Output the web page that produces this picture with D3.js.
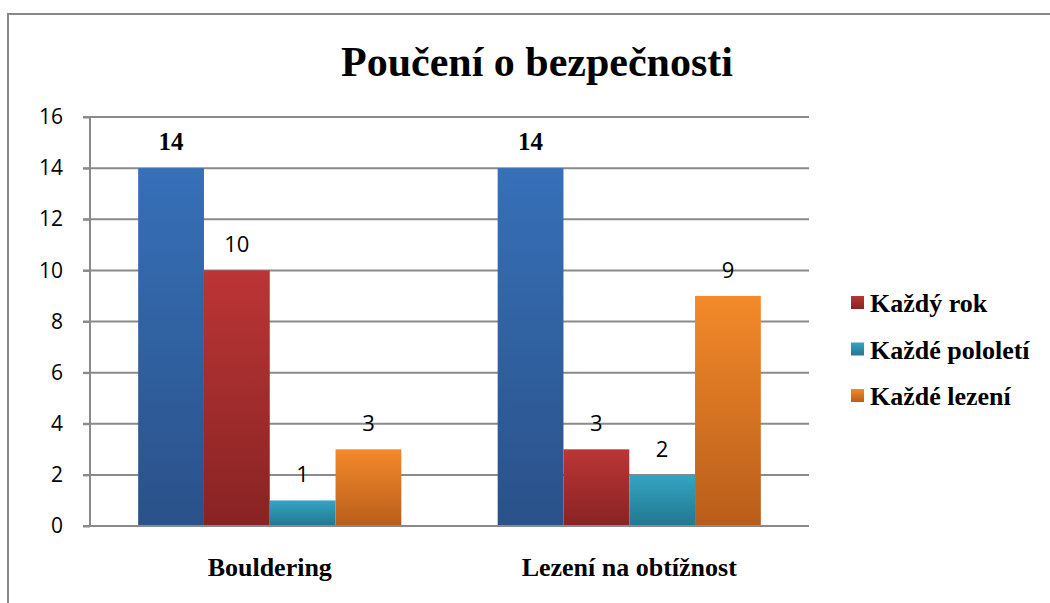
<!DOCTYPE html>
<html>
<head>
<meta charset="utf-8">
<script src="https://cdn.jsdelivr.net/npm/d3@7"></script>
<style>
  body { margin: 0; background: #fff; }
  .tick text { font-family: "Open Sans", "Liberation Sans", sans-serif; font-size: 21px; fill: #000; }
</style>
</head>
<body>
<div id="chart"></div>
<script>
// Chart data
var categories = ["Bouldering", "Lezení na obtížnost"];
var seriesNames = ["", "Každý rok", "Každé pololetí", "Každé lezení"];
var seriesValues = [
  [14, 14],
  [10, 3],
  [1, 2],
  [3, 9]
];
var yTicks = [0, 2, 4, 6, 8, 10, 12, 14, 16];

var svgWidth = 1050;
var svgHeight = 603;

var margin = { top: 117, right: 241, bottom: 77, left: 90 };
var chartWidth = svgWidth - margin.left - margin.right;
var chartHeight = svgHeight - margin.top - margin.bottom;

var colors = [
  ["#3670b8", "#2a5188"],
  ["#bb3535", "#882323"],
  ["#33a5c4", "#22778f"],
  ["#f38a2a", "#b85d1a"]
];

var svg = d3.select("#chart")
  .append("svg")
  .attr("width", svgWidth)
  .attr("height", svgHeight);

// gradients for bars
var defs = svg.append("defs");
colors.forEach(function(c, i) {
  var g = defs.append("linearGradient")
    .attr("id", "grad" + i)
    .attr("x1", 0).attr("y1", 0).attr("x2", 0).attr("y2", 1);
  g.append("stop").attr("offset", "0%").attr("stop-color", c[0]);
  g.append("stop").attr("offset", "100%").attr("stop-color", c[1]);
});

// outer frame
svg.append("rect")
  .attr("x", 8)
  .attr("y", 14)
  .attr("width", 1100)
  .attr("height", 700)
  .attr("fill", "none")
  .attr("stroke", "#888")
  .attr("stroke-width", 2);

// title
svg.append("text")
  .attr("x", 537)
  .attr("y", 76)
  .attr("text-anchor", "middle")
  .style("font-family", "'Liberation Serif', 'DejaVu Serif', serif")
  .style("font-weight", "bold")
  .style("font-size", "42px")
  .text("Poučení o bezpečnosti");

var chartGroup = svg.append("g")
  .attr("transform", `translate(${margin.left}, ${margin.top})`);

var x0 = d3.scaleBand()
  .domain(categories)
  .range([0, chartWidth])
  .paddingInner(0.268)
  .paddingOuter(0.134);

var x1 = d3.scaleBand()
  .domain(d3.range(seriesNames.length))
  .range([0, x0.bandwidth()]);

var yScale = d3.scaleLinear()
  .domain([0, 16])
  .range([chartHeight, 0]);

// gridlines
chartGroup.append("g")
  .selectAll("line")
  .data(yTicks.slice(1))
  .enter()
  .append("line")
  .attr("x1", -7)
  .attr("x2", chartWidth)
  .attr("y1", d => yScale(d))
  .attr("y2", d => yScale(d))
  .attr("stroke", "#8a8a8a")
  .attr("stroke-width", 2);

// y axis
var leftAxis = d3.axisLeft(yScale).tickValues(yTicks).tickSize(7).tickPadding(20);
var yAxis = chartGroup.append("g").call(leftAxis);
yAxis.select(".domain").remove();
yAxis.selectAll(".tick line").attr("stroke", "#8a8a8a").attr("stroke-width", 2);

// bars
var groups = chartGroup.selectAll(".cat")
  .data(categories)
  .enter()
  .append("g")
  .attr("transform", d => `translate(${x0(d)}, 0)`);

groups.selectAll("rect")
  .data((d, ci) => seriesValues.map((vals, si) => ({ si: si, v: vals[ci] })))
  .enter()
  .append("rect")
  .attr("x", d => x1(d.si))
  .attr("y", d => yScale(d.v))
  .attr("width", x1.bandwidth())
  .attr("height", d => chartHeight - yScale(d.v))
  .attr("fill", d => `url(#grad${d.si})`);

// value labels
groups.selectAll("text")
  .data((d, ci) => seriesValues.map((vals, si) => ({ si: si, v: vals[ci] })))
  .enter()
  .append("text")
  .attr("x", d => x1(d.si) + x1.bandwidth() / 2)
  .attr("y", d => yScale(d.v) - 18)
  .attr("text-anchor", "middle")
  .style("font-family", d => d.si === 0 ? "'Liberation Serif', serif" : "'Open Sans', 'Liberation Sans', sans-serif")
  .style("font-weight", d => d.si === 0 ? "bold" : "normal")
  .style("font-size", d => d.si === 0 ? "25px" : "22px")
  .text(d => d.v);

// axis lines
chartGroup.append("line")
  .attr("x1", 0).attr("x2", 0)
  .attr("y1", 0).attr("y2", chartHeight)
  .attr("stroke", "#8a8a8a").attr("stroke-width", 2);
chartGroup.append("line")
  .attr("x1", -7).attr("x2", chartWidth)
  .attr("y1", chartHeight).attr("y2", chartHeight)
  .attr("stroke", "#8a8a8a").attr("stroke-width", 2);

// category labels
chartGroup.selectAll(".catLabel")
  .data(categories)
  .enter()
  .append("text")
  .attr("x", d => x0(d) + x0.bandwidth() / 2)
  .attr("y", chartHeight + 50)
  .attr("text-anchor", "middle")
  .style("font-family", "'Liberation Serif', serif")
  .style("font-weight", "bold")
  .style("font-size", "26px")
  .text(d => d);

// legend (series with names only)
var legendItems = seriesNames
  .map((n, i) => ({ name: n, i: i }))
  .filter(d => d.name !== "");

var legend = svg.append("g")
  .attr("transform", "translate(851, 303)");

var item = legend.selectAll("g")
  .data(legendItems)
  .enter()
  .append("g")
  .attr("transform", (d, k) => `translate(0, ${k * 46.5})`);

item.append("rect")
  .attr("x", 0)
  .attr("y", -7)
  .attr("width", 13)
  .attr("height", 13)
  .attr("fill", d => `url(#grad${d.i})`);

item.append("text")
  .attr("x", 19)
  .attr("y", 9)
  .style("font-family", "'Liberation Serif', serif")
  .style("font-weight", "bold")
  .style("font-size", "26px")
  .text(d => d.name);
</script>
</body>
</html>
